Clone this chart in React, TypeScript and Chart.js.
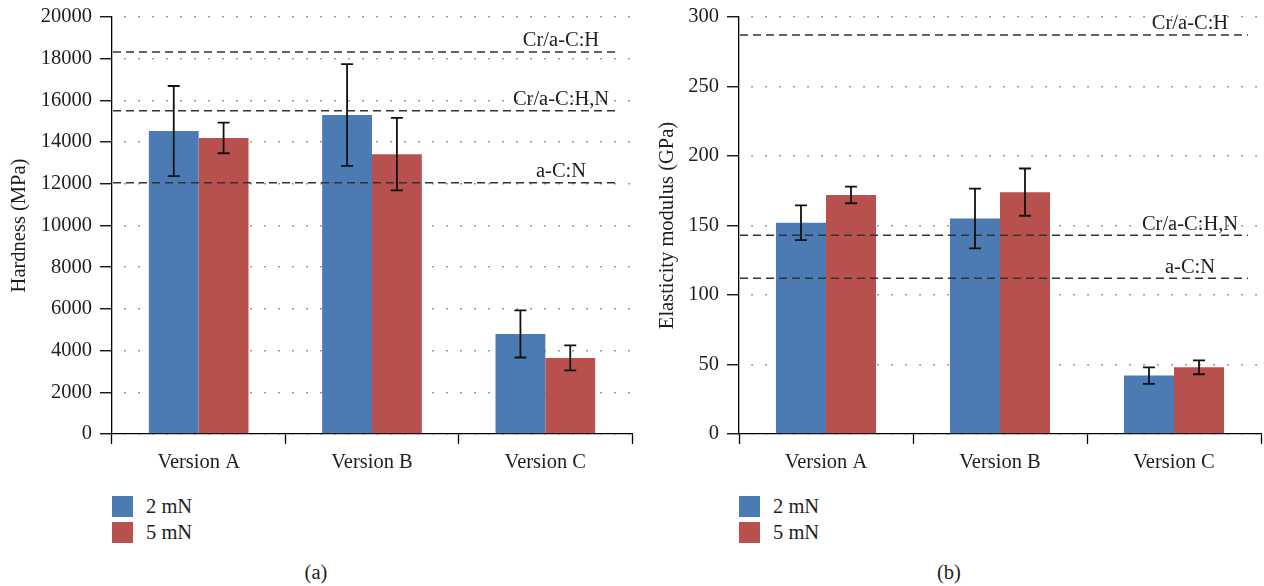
import React, { useEffect, useRef } from "react";
import { Chart, registerables } from "chart.js";

Chart.register(...registerables);

const FONT = "'Liberation Serif', 'Times New Roman', serif";
const FS = 20.5;
const TEXT = "#1e1e1e";
const BLUE = "#4C7AB3";
const RED = "#B8504D";

const categories = ["Version A", "Version B", "Version C"];
const seriesLabels = ["2 mN", "5 mN"];

const hardness2 = [14530, 15300, 4800];
const hardness2Err = [2160, 2440, 1130];
const hardness5 = [14200, 13420, 3650];
const hardness5Err = [735, 1740, 600];

const modulus2 = [152, 155, 42];
const modulus2Err = [12.5, 21.5, 6];
const modulus5 = [172, 174, 48];
const modulus5Err = [6, 17, 5];

const hardnessRefLabels = ["Cr/a-C:H", "Cr/a-C:H,N", "a-C:N"];
const hardnessRefValues = [18320, 15500, 12050];
const modulusRefLabels = ["Cr/a-C:H", "Cr/a-C:H,N", "a-C:N"];
const modulusRefValues = [287, 143, 112];

const hardnessAxis = { min: 0, max: 20000, step: 2000 };
const modulusAxis = { min: 0, max: 300, step: 50 };

type Cfg = {
  values: number[][];
  errors: number[][];
  refLabels: string[];
  refValues: number[];
  axis: { min: number; max: number; step: number };
  title: string;
  titlePad: number;
  padRight: number;
};

function buildChart(canvas: HTMLCanvasElement, cfg: Cfg) {
  const refPlugin = {
    id: "refLines",
    afterDatasetsDraw(chart: any) {
      const { ctx, chartArea } = chart;
      const y = chart.scales.y;
      ctx.save();
      cfg.refValues.forEach((v, i) => {
        const py = y.getPixelForValue(v);
        ctx.strokeStyle = "#333";
        ctx.lineWidth = 1.5;
        ctx.setLineDash([8, 5]);
        ctx.beginPath();
        ctx.moveTo(chartArea.left + 1, py);
        ctx.lineTo(chartArea.right - 13, py);
        ctx.stroke();
        ctx.setLineDash([]);
        ctx.fillStyle = TEXT;
        ctx.font = `${FS}px ${FONT}`;
        ctx.textAlign = "center";
        ctx.textBaseline = "middle";
        ctx.fillText(cfg.refLabels[i], chartArea.right - 71, py - 11);
      });
      ctx.restore();
    },
  };
  const errorPlugin = {
    id: "errorBars",
    afterDatasetsDraw(chart: any) {
      const { ctx } = chart;
      const y = chart.scales.y;
      ctx.save();
      ctx.strokeStyle = "#111";
      ctx.lineWidth = 1.8;
      cfg.values.forEach((vals, di) => {
        const meta = chart.getDatasetMeta(di);
        meta.data.forEach((bar: any, i: number) => {
          const v = vals[i];
          const e = cfg.errors[di][i];
          const yt = y.getPixelForValue(v + e);
          const yb = y.getPixelForValue(v - e);
          const x = bar.x;
          ctx.beginPath();
          ctx.moveTo(x, yt);
          ctx.lineTo(x, yb);
          ctx.moveTo(x - 6, yt);
          ctx.lineTo(x + 6, yt);
          ctx.moveTo(x - 6, yb);
          ctx.lineTo(x + 6, yb);
          ctx.stroke();
        });
      });
      ctx.restore();
    },
  };

  return new Chart(canvas, {
    type: "bar",
    data: {
      labels: categories,
      datasets: cfg.values.map((vals, i) => ({
        label: seriesLabels[i],
        data: vals,
        backgroundColor: i === 0 ? BLUE : RED,
        borderWidth: 0,
        categoryPercentage: 0.575,
        barPercentage: 1,
      })),
    },
    options: {
      responsive: false,
      animation: false,
      devicePixelRatio: 1,
      layout: { padding: { top: 0, right: cfg.padRight, bottom: 0, left: 0 } },
      plugins: {
        legend: { display: false },
        tooltip: { enabled: false },
      },
      scales: {
        x: {
          afterFit(scale: any) {
            scale.height = 46;
          },
          grid: {
            display: true,
            drawOnChartArea: false,
            drawTicks: true,
            tickLength: 10,
            tickColor: "#000",
            tickWidth: 1.3,
            offset: true,
          },
          border: { display: true, color: "#000", width: 1.3 },
          ticks: {
            color: TEXT,
            font: { family: FONT, size: FS },
            padding: 6,
            maxRotation: 0,
          },
        },
        y: {
          min: cfg.axis.min,
          max: cfg.axis.max,
          afterFit(scale: any) {
            scale.width = 112;
            scale.paddingTop = 17;
            scale.paddingBottom = 0;
          },
          ticks: {
            stepSize: cfg.axis.step,
            color: TEXT,
            font: { family: FONT, size: FS },
            padding: 8,
            callback: (v: any) => String(v),
          },
          grid: {
            color: "#7a7a7a",
            lineWidth: 1.5,
            tickColor: "#000",
            tickWidth: 1.3,
            tickLength: 12,
          },
          border: {
            display: true,
            color: "#000",
            width: 1.3,
            dash: [1.5, 12.5],
            dashOffset: 2,
          },
          title: {
            display: true,
            text: cfg.title,
            color: TEXT,
            font: { family: FONT, size: FS },
            padding: { top: cfg.titlePad, bottom: 0 },
          },
        },
      },
    },
    plugins: [refPlugin, errorPlugin],
  });
}

function Legend({ left }: { left: number }) {
  const items = [
    { label: seriesLabels[0], color: BLUE, top: 496 },
    { label: seriesLabels[1], color: RED, top: 522 },
  ];
  return (
    <>
      {items.map((it) => (
        <React.Fragment key={it.label}>
          <div
            style={{
              position: "absolute",
              left,
              top: it.top,
              width: 21,
              height: 21,
              background: it.color,
            }}
          />
          <div
            style={{
              position: "absolute",
              left: left + 34,
              top: it.top - 2,
              height: 25,
              lineHeight: "25px",
              fontFamily: FONT,
              fontSize: FS,
              color: TEXT,
              whiteSpace: "nowrap",
            }}
          >
            {it.label}
          </div>
        </React.Fragment>
      ))}
    </>
  );
}

function Caption({ center, text }: { center: number; text: string }) {
  return (
    <div
      style={{
        position: "absolute",
        left: center - 40,
        width: 80,
        top: 559,
        height: 26,
        lineHeight: "26px",
        textAlign: "center",
        fontFamily: FONT,
        fontSize: FS,
        color: TEXT,
      }}
    >
      {text}
    </div>
  );
}

export default function App() {
  const leftRef = useRef<HTMLCanvasElement>(null);
  const rightRef = useRef<HTMLCanvasElement>(null);

  useEffect(() => {
    const c1 = buildChart(leftRef.current!, {
      values: [hardness2, hardness5],
      errors: [hardness2Err, hardness5Err],
      refLabels: hardnessRefLabels,
      refValues: hardnessRefValues,
      axis: hardnessAxis,
      title: "Hardness (MPa)",
      titlePad: 7,
      padRight: 8,
    });
    const c2 = buildChart(rightRef.current!, {
      values: [modulus2, modulus5],
      errors: [modulus2Err, modulus5Err],
      refLabels: modulusRefLabels,
      refValues: modulusRefValues,
      axis: modulusAxis,
      title: "Elasticity modulus (GPa)",
      titlePad: 28,
      padRight: 3,
    });
    return () => {
      c1.destroy();
      c2.destroy();
    };
  }, []);

  return (
    <div
      style={{
        position: "absolute",
        left: 0,
        top: 0,
        width: 1264,
        height: 586,
        background: "#fff",
        overflow: "hidden",
      }}
    >
      <canvas
        ref={leftRef}
        width={640}
        height={480}
        style={{ position: "absolute", left: 0, top: 0, width: 640, height: 480 }}
      />
      <canvas
        ref={rightRef}
        width={637}
        height={480}
        style={{ position: "absolute", left: 627, top: 0, width: 637, height: 480 }}
      />
      <Legend left={112} />
      <Legend left={739} />
      <Caption center={316} text="(a)" />
      <Caption center={949} text="(b)" />
    </div>
  );
}
